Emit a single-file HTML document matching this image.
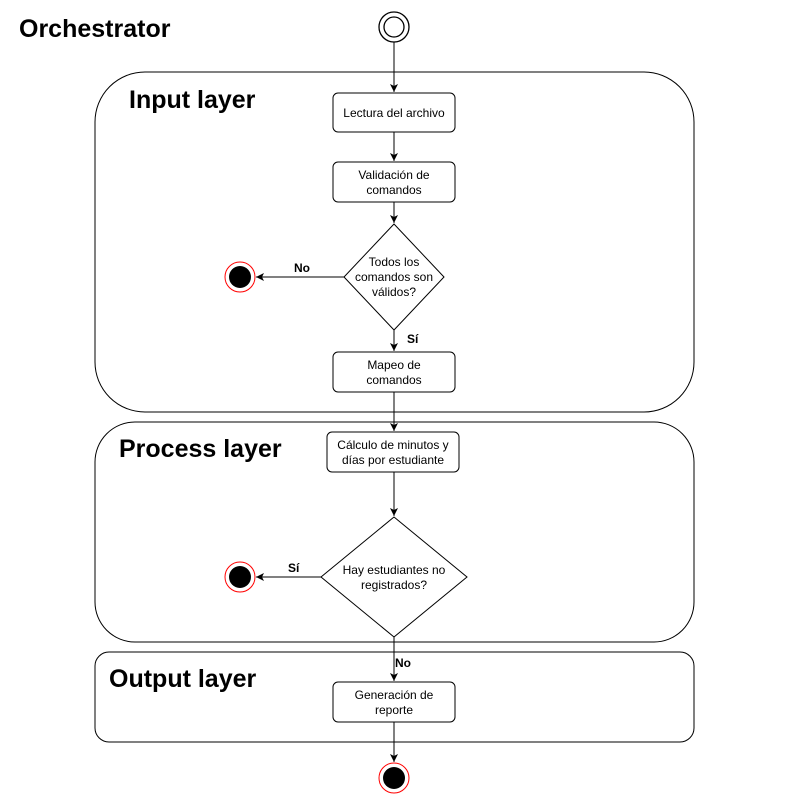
<!DOCTYPE html>
<html><head><meta charset="utf-8"><style>
html,body{margin:0;padding:0;background:#fff;}
svg{display:block;font-family:"Liberation Sans",Arial,sans-serif;}
.t{font-size:12px;text-anchor:middle;fill:#000;}
.h{font-size:25px;font-weight:bold;fill:#000;}
.l{font-size:12px;font-weight:bold;fill:#000;}
</style></head><body>
<svg width="787" height="799" viewBox="0 0 787 799" xmlns="http://www.w3.org/2000/svg">
<defs><marker id="a" markerWidth="10" markerHeight="10" refX="9" refY="5" orient="auto" markerUnits="userSpaceOnUse"><path d="M1,1 L9,5 L1,9 L3,5 Z" fill="#000"/></marker></defs>
<text x="19" y="37" class="h">Orchestrator</text>
<rect x="95" y="72" width="599" height="340" rx="50" fill="#fff" stroke="#000"/>
<text x="129" y="108" class="h">Input layer</text>
<rect x="95" y="422" width="599" height="220" rx="40" fill="#fff" stroke="#000"/>
<text x="119" y="457" class="h">Process layer</text>
<rect x="95" y="652" width="599" height="90" rx="14" fill="#fff" stroke="#000"/>
<text x="109" y="687" class="h">Output layer</text>
<g stroke="#000" fill="none">
<line x1="394" y1="42" x2="394" y2="92" marker-end="url(#a)"/>
<line x1="394" y1="132" x2="394" y2="161" marker-end="url(#a)"/>
<line x1="394" y1="202" x2="394" y2="223" marker-end="url(#a)"/>
<line x1="394" y1="330" x2="394" y2="351" marker-end="url(#a)"/>
<line x1="344" y1="277" x2="256" y2="277" marker-end="url(#a)"/>
<line x1="394" y1="392" x2="394" y2="431" marker-end="url(#a)"/>
<line x1="394" y1="472" x2="394" y2="516" marker-end="url(#a)"/>
<line x1="321" y1="577" x2="256" y2="577" marker-end="url(#a)"/>
<line x1="394" y1="637" x2="394" y2="681" marker-end="url(#a)"/>
<line x1="394" y1="722" x2="394" y2="762" marker-end="url(#a)"/>
</g>
<circle cx="394" cy="27" r="15" fill="#fff" stroke="#000" stroke-width="1.3"/>
<circle cx="394" cy="27" r="10" fill="#fff" stroke="#000" stroke-width="1.3"/>
<g fill="#fff" stroke="#000">
<rect x="333" y="93" width="122" height="39" rx="5"/>
<rect x="333" y="162" width="122" height="40" rx="5"/>
<path d="M394,224 L444,277 L394,330 L344,277 Z"/>
<rect x="333" y="352" width="122" height="40" rx="5"/>
<rect x="327" y="432" width="132" height="40" rx="5"/>
<path d="M394,517 L467,577 L394,637 L321,577 Z"/>
<rect x="333" y="682" width="122" height="40" rx="5"/>
</g>
<text x="394" y="117" class="t">Lectura del archivo</text>
<text x="394" y="179" class="t">Validación de</text>
<text x="394" y="194" class="t">comandos</text>
<text x="394" y="266" class="t">Todos los</text>
<text x="394" y="281" class="t">comandos son</text>
<text x="394" y="296" class="t">válidos?</text>
<text x="394" y="369" class="t">Mapeo de</text>
<text x="394" y="384" class="t">comandos</text>
<text x="393" y="449" class="t">Cálculo de minutos y</text>
<text x="393" y="464" class="t">días por estudiante</text>
<text x="394" y="574" class="t">Hay estudiantes no</text>
<text x="394" y="589" class="t">registrados?</text>
<text x="394" y="699" class="t">Generación de</text>
<text x="394" y="714" class="t">reporte</text>
<text x="294" y="272" class="l">No</text>
<text x="407" y="343" class="l">Sí</text>
<text x="288" y="572" class="l">Sí</text>
<text x="395" y="667" class="l">No</text>
<g>
<circle cx="240" cy="277" r="15" fill="#fff" stroke="#ff0000"/>
<circle cx="240" cy="277" r="11" fill="#000"/>
<circle cx="240" cy="577" r="15" fill="#fff" stroke="#ff0000"/>
<circle cx="240" cy="577" r="11" fill="#000"/>
<circle cx="394" cy="778" r="15" fill="#fff" stroke="#ff0000"/>
<circle cx="394" cy="778" r="11" fill="#000"/>
</g>
</svg>
</body></html>
